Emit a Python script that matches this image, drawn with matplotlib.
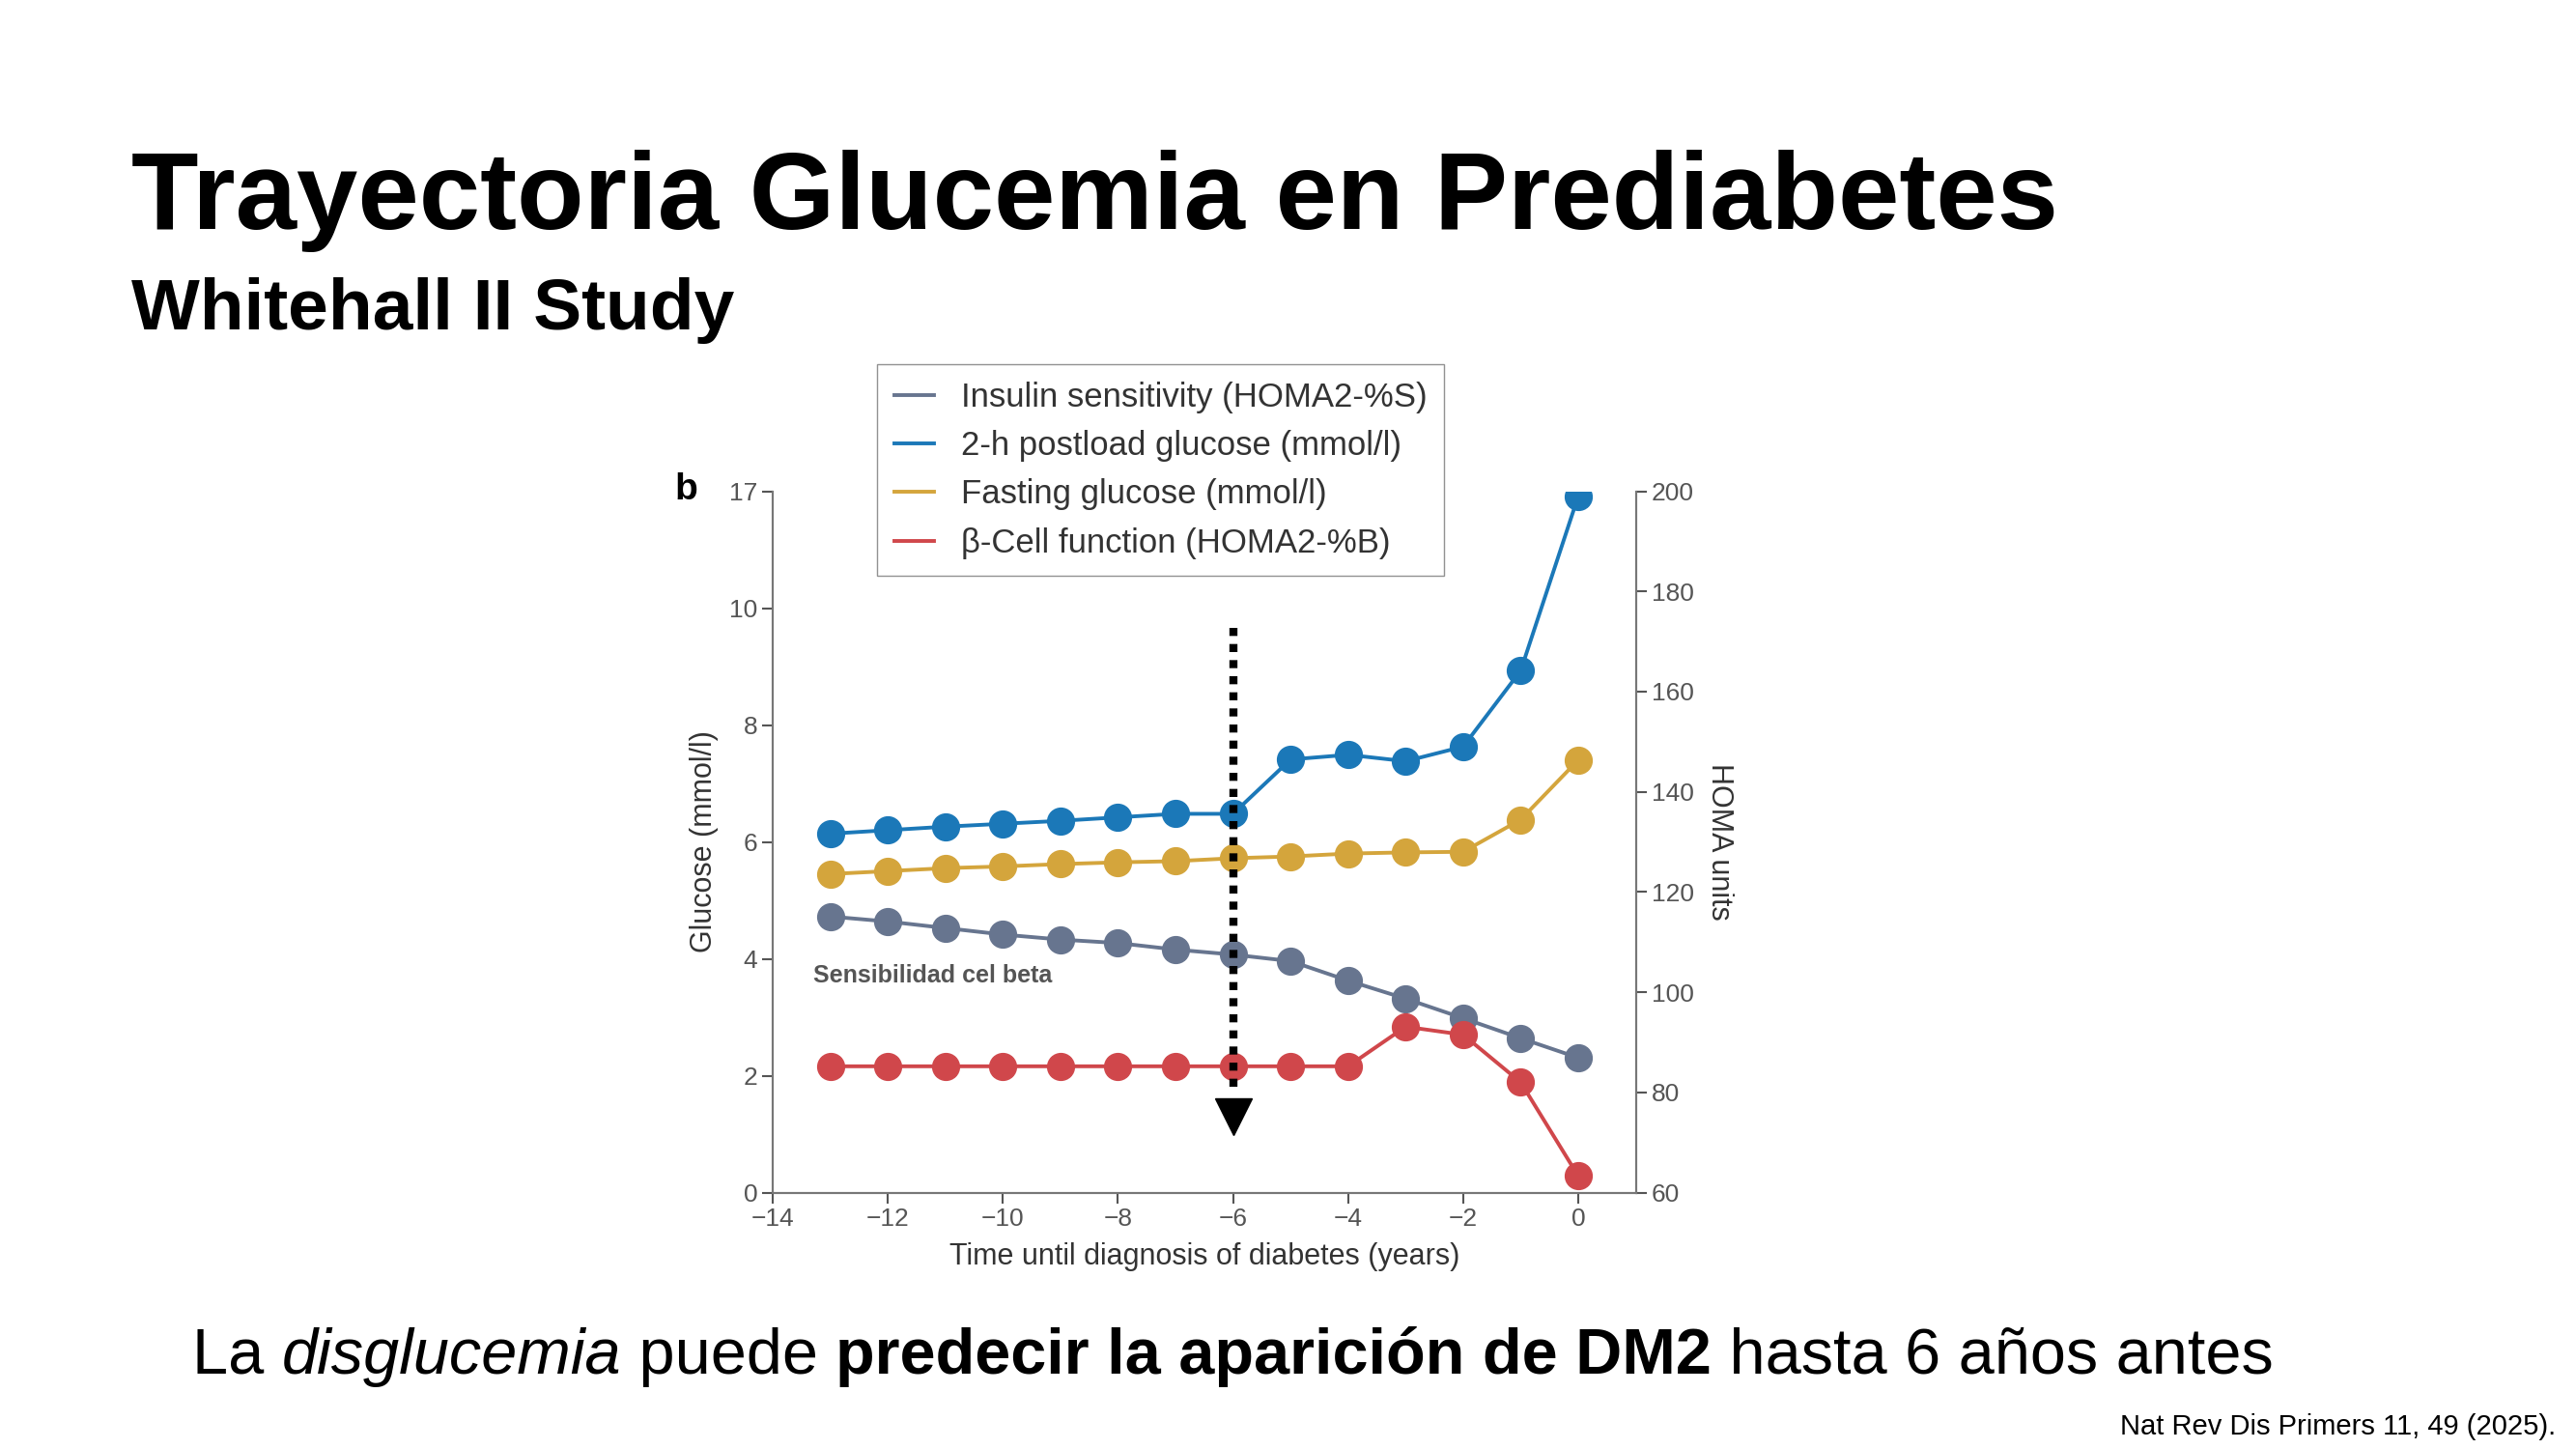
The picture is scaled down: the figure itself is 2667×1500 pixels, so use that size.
import matplotlib
matplotlib.use("Agg")
import matplotlib.pyplot as plt
import numpy as np

years = [-13, -12, -11, -10, -9, -8, -7, -6, -5, -4, -3, -2, -1, 0]
postload = [6.14, 6.2, 6.26, 6.31, 6.36, 6.42, 6.48, 6.48, 7.41, 7.49, 7.38, 7.63, 8.93, 16.7]
fasting = [5.45, 5.5, 5.55, 5.58, 5.62, 5.65, 5.67, 5.72, 5.75, 5.8, 5.82, 5.83, 6.38, 7.4]
insulin_sens = [115.1, 114.1, 112.8, 111.5, 110.5, 109.8, 108.5, 107.5, 106.2, 102.3, 98.7, 94.8, 90.8, 86.9]
beta_cell = [85.2, 85.2, 85.2, 85.2, 85.2, 85.2, 85.2, 85.2, 85.2, 85.2, 93.1, 91.5, 82.0, 63.3]
left_ticks = [0, 2, 4, 6, 8, 10, 17]
right_ticks = [60, 80, 100, 120, 140, 160, 180, 200]
x_ticks = [-14, -12, -10, -8, -6, -4, -2, 0]

def brk(v):
    # broken glucose axis: 10..17 compressed into 10..12
    v = np.asarray(v, float)
    return np.where(v > 10, 10 + (v - 10) * 2 / 7, v)

plt.rcParams['font.family'] = ['Liberation Sans', 'DejaVu Sans']
fig = plt.figure(figsize=(26.67, 15), dpi=100)

C_GREY = '#67758f'; C_BLUE = '#1b78b8'; C_GOLD = '#d4a53c'; C_RED = '#d0474b'
TK = '#555555'

ax = fig.add_axes([0.300, 0.177, 0.335, 0.484])
ax2 = ax.twinx()
ax.set_xlim(-14, 1); ax.set_ylim(0, 12); ax2.set_ylim(60, 200)
for a in (ax, ax2):
    a.spines['top'].set_visible(False)
    for s in ('left', 'right', 'bottom'):
        a.spines[s].set_color('#777777'); a.spines[s].set_linewidth(1.5)
    a.tick_params(colors=TK, labelsize=19, width=1.5, length=8, labelcolor=TK)
ax.set_xticks(x_ticks)
ax.set_xticklabels([str(t).replace('-', '\u2212') for t in x_ticks])
ax.set_yticks(brk(left_ticks))
ax.set_yticklabels([str(t) for t in left_ticks])
ax2.set_yticks(right_ticks)
ax.set_xlabel('Time until diagnosis of diabetes (years)', fontsize=22, color='#333333', labelpad=8)
ax.set_ylabel('Glucose (mmol/l)', fontsize=22, color='#333333', labelpad=8)
ax2.set_ylabel('HOMA units', fontsize=22, color='#333333', rotation=270, labelpad=30)

kw = dict(lw=2.8, marker='o', ms=20, zorder=3)
l1, = ax2.plot(years, insulin_sens, color=C_GREY, label='Insulin sensitivity (HOMA2-%S)', **kw)
l2, = ax.plot(years, brk(postload), color=C_BLUE, label='2-h postload glucose (mmol/l)', **kw)
l3, = ax.plot(years, fasting, color=C_GOLD, label='Fasting glucose (mmol/l)', **kw)
l4, = ax2.plot(years, beta_cell, color=C_RED, label='\u03b2-Cell function (HOMA2-%B)', **kw)
ax.set_zorder(ax2.get_zorder() + 1); ax.patch.set_visible(False)

leg = fig.legend(handles=[l1, l2, l3, l4], loc='upper left', bbox_to_anchor=(0.334, 0.76),
                 fontsize=25, frameon=True, fancybox=False, edgecolor='#777777',
                 handlelength=1.2, labelspacing=0.5, borderpad=0.5)
for h in leg.legend_handles:
    h.set_marker(''); h.set_linewidth(2.8)
for t in leg.get_texts():
    t.set_color('#333333')

ax.text(-13.3, 3.6, 'Sensibilidad cel beta', fontsize=18, color='#555555', fontweight='bold', zorder=5)
ax.plot([-6, -6], [9.66, 1.75], color='black', lw=6, ls=(0, (1, 1)), zorder=6)
ax.plot([-6], [1.3], marker='v', ms=28, color='black', zorder=6)

fig.text(0.262, 0.662, 'b', fontsize=28, fontweight='bold', va='center')
fig.text(0.051, 0.842, 'Trayectoria Glucemia en Prediabetes', fontsize=82, fontweight='bold', va='baseline')
fig.text(0.051, 0.773, 'Whitehall II Study', fontsize=54, fontweight='bold', va='baseline')
fig.text(0.992, 0.006, 'Nat Rev Dis Primers 11, 49 (2025).', fontsize=21, ha='right', va='bottom')

pieces = [('La ', 'normal', 'normal'), ('disglucemia', 'italic', 'normal'), (' puede ', 'normal', 'normal'),
          ('predecir la aparición de DM2', 'normal', 'bold'), (' hasta 6 años antes', 'normal', 'normal')]
fig.canvas.draw()
r = fig.canvas.get_renderer()
x = 0.0745
for s, st, wt in pieces:
    t = fig.text(x, 0.052, s, fontsize=48, style=st, fontweight=wt, va='baseline')
    bb = t.get_window_extent(renderer=r)
    x += bb.width / fig.bbox.width

fig.savefig('out.png', dpi=100)
